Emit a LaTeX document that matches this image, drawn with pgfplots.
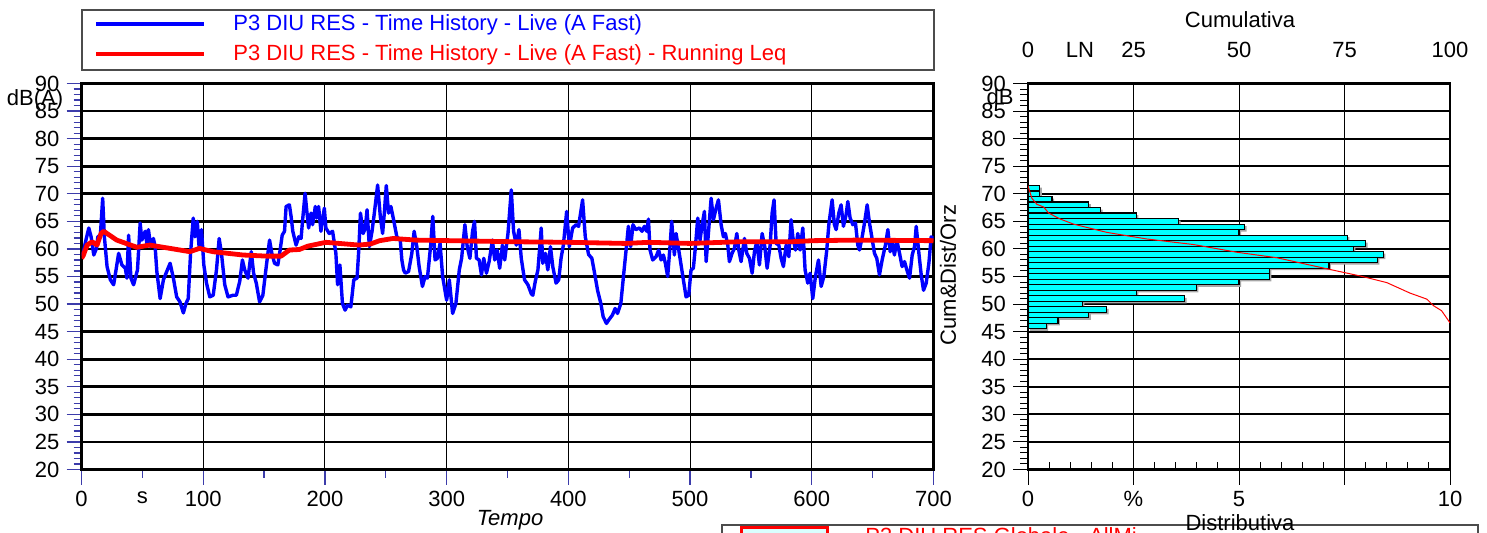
\documentclass[border=0pt]{standalone}
\usepackage{fontspec}
\setmainfont{Liberation Sans}
\usepackage{pgfplots}
\pgfplotsset{compat=1.18}
\definecolor{tickblue}{RGB}{60,60,170}
\definecolor{histcyan}{RGB}{0,255,255}

\begin{document}
\begin{tikzpicture}[font=\fontsize{11}{13}\selectfont]
\pgfplotsset{
  every axis/.append style={
    scale only axis, height=193pt,
    axis line style={line width=1.1pt},
    tick label style={font=\fontsize{11}{13}\selectfont},
    /pgf/number format/assume math mode=true,
    ymin=20, ymax=90, ytick={20,25,...,90}, minor y tick num=4,
    tick align=outside, xtick pos=bottom, ytick pos=left,
    major tick length=7.5pt, minor tick length=4pt,
    grid=major,
  },
}

% time history
\begin{axis}[
  name=L, at={(0pt,0pt)}, anchor=south west, width=426pt,
  xmin=0, xmax=700, xtick={0,100,...,700}, minor x tick num=1,
  extra x ticks={50}, extra x tick labels={s},
  extra x tick style={grid=none, tick style={draw=none}},
  tick style={tickblue, line width=0.6pt},
  y grid style={black, line width=1.3pt},
  x grid style={black, line width=0.5pt},
]
\addplot[blue, line width=1.7pt, line join=round] coordinates {
  (0,58.8) (1.4,59.2) (3.3,61.3) (6.0,63.8) (7.9,62.2) (10.1,58.9) (12.3,60.1) (13.4,62.2)
  (15.5,62.5) (17.4,69.2) (18.8,62.2) (21.0,56.8) (23.7,54.4) (26.4,53.5) (28.6,56.5)
  (30.5,59.2) (33.2,57.1) (36.0,56.5) (37.3,54.7) (38.7,62.5) (40.6,54.7) (42.8,53.5)
  (46.0,56.2) (48.2,64.7) (49.6,61.6) (52.3,63.2) (53.7,61.0) (55.0,63.5) (56.9,60.4)
  (59.1,61.9) (60.5,60.4) (61.9,55.9) (64.6,51.0) (67.3,54.4) (70.0,55.9) (72.8,57.4)
  (75.5,54.7) (78.2,51.3) (80.9,50.4) (83.7,48.4) (85.8,50.1) (87.7,51.0) (89.6,59.2)
  (91.8,65.6) (93.2,62.2) (95.1,65.0) (96.7,60.1) (98.6,63.5) (100.5,57.1) (102.7,53.8)
  (105.4,51.3) (108.2,51.6) (110.9,56.2) (113.1,61.9) (115.0,59.2) (117.7,53.5)
  (120.4,51.3) (124.5,51.6) (127.2,51.6) (130.0,54.1) (132.2,58.0) (134.1,56.2)
  (136.8,54.7) (139.5,59.5) (141.4,55.6) (143.6,53.8) (146.3,50.4) (149.0,51.6)
  (151.8,56.8) (154.5,61.6) (156.4,59.2) (158.6,57.4) (161.3,57.1) (163.2,59.8)
  (164.9,62.5) (166.8,63.2) (168.1,67.7) (170.8,68.0) (172.2,65.9) (173.6,63.2)
  (176.3,60.7) (178.5,62.2) (180.4,61.9) (181.7,65.3) (183.7,70.1) (185.0,67.1)
  (186.6,63.8) (188.6,66.5) (189.9,64.4) (192.1,67.7) (193.2,65.6) (194.8,67.7)
  (196.7,63.2) (199.5,67.4) (200.8,63.8) (203.5,62.8) (206.3,63.2) (209.0,59.2)
  (210.4,53.5) (212.3,57.1) (214.4,50.1) (216.6,48.9) (218.5,49.8) (221.3,49.5)
  (223.7,54.4) (226.4,54.7) (227.8,59.8) (229.2,66.5) (231.4,62.8) (233.2,63.8)
  (234.6,67.1) (236.5,60.4) (238.7,63.2) (240.6,66.5) (243.3,71.6) (245.5,65.9)
  (247.4,62.8) (248.8,66.5) (250.4,71.5) (252.3,66.5) (254.2,67.7) (256.4,65.3)
  (259.1,62.2) (261.9,61.6) (263.2,58.0) (264.6,56.2) (266.0,55.6) (268.7,55.9)
  (271.4,59.2) (273.3,63.2) (275.5,60.4) (277.4,56.8) (280.1,53.2) (282.3,55.0)
  (284.2,54.7) (286.9,60.7) (288.6,65.9) (290.5,58.0) (292.4,58.3) (294.6,61.0)
  (296.7,55.0) (300.0,50.7) (302.2,54.4) (304.9,48.3) (307.6,50.1) (310.4,56.2)
  (312.3,58.3) (315.0,64.4) (316.9,60.4) (319.1,58.3) (321.3,63.2) (322.9,65.0)
  (324.5,58.3) (326.7,58.0) (328.6,55.3) (330.5,58.3) (332.7,55.6) (334.9,57.7)
  (337.6,61.6) (339.5,58.0) (341.4,59.8) (343.6,56.5) (345.8,60.7) (347.7,58.0)
  (350.4,62.8) (353.1,70.7) (355.0,63.2) (357.2,60.7) (359.4,63.5) (361.3,58.3)
  (364.0,54.4) (366.8,53.5) (369.5,51.9) (370.8,51.6) (372.8,54.1) (375.0,56.2)
  (376.3,59.8) (377.7,63.8) (379.0,57.4) (381.2,59.2) (383.1,56.2) (385.3,60.4)
  (387.2,56.8) (389.9,53.8) (392.1,54.4) (394.0,58.3) (395.9,60.7) (398.6,66.8)
  (400.8,60.4) (403.5,63.8) (406.3,64.4) (408.4,64.1) (411.7,68.9) (413.9,62.2)
  (416.6,59.0) (419.3,58.3) (421.3,55.9) (424.0,52.5) (426.7,50.1) (428.6,47.7)
  (431.3,46.5) (434.1,47.4) (436.2,48.0) (438.4,49.2) (440.4,48.3) (443.1,50.1)
  (445.8,56.2) (447.7,60.4) (449.3,64.1) (451.2,60.4) (453.1,64.4) (455.3,63.5)
  (458.4,63.8) (460.5,63.2) (462.5,64.1) (464.4,63.2) (465.8,65.4) (467.1,59.8)
  (469.3,58.0) (472.1,58.6) (474.2,59.8) (476.2,58.0) (478.1,58.9) (479.7,57.4)
  (481.6,55.0) (483.6,60.7) (484.9,65.0) (487.1,58.9) (488.5,62.8) (490.7,59.8)
  (492.6,57.1) (494.5,54.4) (496.7,51.3) (498.9,51.6) (500.8,56.2) (502.7,56.5)
  (504.4,60.4) (506.3,65.6) (508.2,61.6) (509.9,64.4) (511.8,66.8) (513.2,57.7)
  (515.3,63.5) (517.3,69.2) (519.2,65.3) (521.4,67.4) (523.3,68.9) (525.5,64.4)
  (527.4,62.2) (529.0,62.8) (531.0,60.7) (532.3,57.7) (534.5,59.2) (536.4,60.1)
  (538.4,62.8) (540.0,59.8) (541.9,57.7) (544.7,61.9) (546.6,59.2) (548.8,58.3)
  (551.0,55.6) (552.9,59.5) (554.8,61.3) (557.0,57.1) (559.2,62.8) (561.4,60.4)
  (563.3,56.5) (565.8,60.7) (567.4,66.5) (569.0,68.9) (570.7,61.0) (572.9,60.7)
  (574.8,58.3) (576.7,56.8) (578.9,60.7) (581.1,58.6) (583.0,65.3) (584.4,62.2)
  (586.6,59.8) (588.5,62.8) (590.4,59.8) (592.6,63.8) (594.5,56.2) (596.7,53.8)
  (598.6,55.6) (600.8,51.0) (603.0,55.0) (605.5,58.0) (607.7,53.2) (609.9,55.0)
  (612.3,59.8) (614.0,64.4) (616.7,68.9) (618.6,64.4) (620.0,63.5) (622.2,66.5)
  (624.1,68.0) (626.0,64.1) (628.2,66.2) (629.6,68.6) (631.5,65.6) (633.7,64.4)
  (635.9,64.7) (637.8,60.7) (639.2,59.8) (641.4,62.2) (643.3,64.7) (645.5,68.0)
  (647.4,64.7) (649.3,62.2) (651.5,59.2) (653.4,58.3) (655.6,55.3) (657.8,58.0)
  (660.5,60.7) (662.5,63.5) (664.4,59.5) (666.0,61.3) (667.9,58.9) (669.9,61.6)
  (672.1,59.2) (674.2,56.8) (676.2,57.7) (678.1,56.2) (680.3,54.7) (682.5,58.9)
  (684.4,60.4) (685.8,64.1) (688.0,59.2) (689.9,55.3) (691.8,52.5) (694.0,53.8)
  (696.2,57.4) (698.1,62.2) (700,61.9)
};
\addplot[red, line width=2.4pt, line join=round] coordinates {
  (0,58.3) (1.4,58.8) (4.6,60.7) (8.7,61.3) (12.8,60.7) (16,62.8) (18.3,63.2)
  (29,61.6) (45.5,60.3) (56,60.7) (72.8,60.1) (89,59.5) (97,60.1) (108,59.5)
  (132.7,58.9) (151.8,58.7) (164,58.7) (170.8,59.8) (179,59.9) (185.8,60.5)
  (200.8,61.2) (228,60.7) (237.5,60.9) (245,61.5) (256,61.9) (275,61.6)
  (303,61.5) (357,61.3) (401,61.2) (447,61.0) (466,61.2) (500,61.0) (540,61.3)
  (583,61.3) (601,61.5) (636,61.6) (700,61.5)
};
\end{axis}

% distribution
\begin{axis}[
  name=R, at={(473.25pt,0pt)}, anchor=south west, width=211pt,
  xmin=0, xmax=10, xtick={0,2.5,5,7.5,10}, xticklabels={0,\%,5,,10},
  minor xtick={0.5,1,...,9.5},
  tick style={black, line width=0.5pt},
  every minor x tick/.append style={yshift=4pt},
  y grid style={black, line width=1.1pt},
  x grid style={black, line width=0.5pt},
]
\addplot[xbar, bar width=1, bar shift=0pt, fill=black!35, draw=none,
  xshift=1pt, yshift=-1pt] coordinates {
  (0.28,71) (0.28,70) (0.57,69) (1.44,68) (1.72,67) (2.57,66) (3.57,65) (5.13,64)
  (5.00,63) (7.57,62) (8.00,61) (7.71,60) (8.42,59) (8.28,58) (7.13,57) (5.72,56)
  (5.72,55) (5.00,54) (3.99,53) (2.57,52) (3.71,51) (1.29,50) (1.86,49) (1.44,48)
  (0.71,47) (0.43,46)
};
\addplot[xbar, bar width=1, bar shift=0pt, fill=histcyan, draw=black, line width=0.6pt]
  coordinates {
  (0.28,71) (0.28,70) (0.57,69) (1.44,68) (1.72,67) (2.57,66) (3.57,65) (5.13,64)
  (5.00,63) (7.57,62) (8.00,61) (7.71,60) (8.42,59) (8.28,58) (7.13,57) (5.72,56)
  (5.72,55) (5.00,54) (3.99,53) (2.57,52) (3.71,51) (1.29,50) (1.86,49) (1.44,48)
  (0.71,47) (0.43,46)
};
\addplot[red, line width=0.5pt] coordinates {
  (0,71.45) (0.09,69.2) (0.21,68.1) (0.37,67.6) (0.49,66.5) (0.77,65.4) (1.08,64.5)
  (1.87,63.0) (2.82,61.8) (3.92,60.8) (4.95,59.4) (5.90,58.4) (7.08,56.4) (7.87,55.1)
  (8.50,53.9) (9.05,52.0) (9.45,50.9) (9.61,49.7) (9.80,48.8) (10,46.6)
};
\end{axis}

% legend
\draw[black!70, line width=0.6pt] (0.25pt,199.75pt) rectangle (426.25pt,229.75pt);
\draw[blue, line width=1.6pt] (7.25pt,222.75pt) -- (61.25pt,222.75pt);
\draw[red, line width=1.8pt] (7.25pt,207.75pt) -- (61.25pt,207.75pt);
\node[blue, anchor=base west, inner sep=0pt] at (75.75pt,219.4pt)
  {P3 DIU RES - Time History - Live (A Fast)};
\node[red, anchor=base west, inner sep=0pt] at (75.75pt,204.75pt)
  {P3 DIU RES - Time History - Live (A Fast) - Running Leq};

% axis texts
\node at (-23.25pt,184.75pt) {dB(A)};
\node[anchor=base] at (214.25pt,-28pt) {\itshape Tempo};
\node at (459.25pt,186.25pt) {dB};
\node[rotate=90] at (433.25pt,97.25pt) {Cum\&Dist/Orz};
\node[anchor=base] at (579.25pt,221.25pt) {Cumulativa};
\foreach \v/\t in {0/0,1.23/LN,2.5/25,5/50,7.5/75,10/100}
  \node[anchor=base] at (473.25pt+\v*21.1pt,206.25pt) {\t};
\draw[black!70, line width=0.6pt] (320.25pt,-40pt) -- (320.25pt,-27.75pt) -- (698.25pt,-27.75pt) -- (698.25pt,-40pt);
\draw[red, line width=1.5pt, fill=histcyan!15] (329.75pt,-28.75pt) rectangle (372.75pt,-45pt);
\node[red, anchor=base west, inner sep=0pt] at (391.75pt,-36.75pt) {P3 DIU RES Globale - AllMi};
\node[anchor=base] at (579.25pt,-30.25pt) {Distributiva};

\pgfresetboundingbox
\useasboundingbox (-40.75pt,-31.25pt) rectangle (702.75pt,234.75pt);
\end{tikzpicture}
\end{document}
